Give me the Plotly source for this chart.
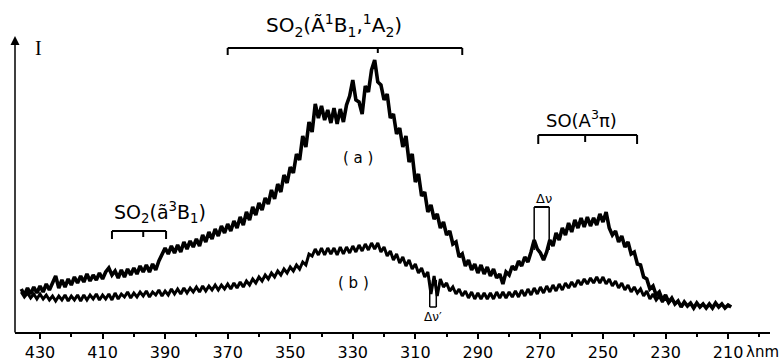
import plotly.graph_objects as go

# ---- data (wavelength in nm, intensity in arbitrary units) ----
wl_a = list(range(436, 208, -1))   # 436 .. 209
int_a = [
    43, 37, 44, 38, 45, 39, 46, 40, 48, 42,
    49, 56, 44, 52, 45, 53, 47, 55, 49, 56,
    50, 58, 51, 57, 52, 59, 53, 60, 64, 57,
    61, 54, 62, 55, 63, 57, 64, 58, 66, 60,
    67, 60, 68, 62, 71, 77, 84, 78, 86, 79,
    87, 80, 90, 83, 91, 85, 93, 86, 97, 90,
    100, 93, 103, 96, 106, 99, 108, 101, 111, 104,
    115, 107, 120, 112, 125, 117, 129, 122, 134, 128,
    142, 133, 148, 140, 157, 149, 165, 159, 178, 172,
    196, 185, 210, 200, 228, 214, 226, 212, 222, 209,
    224, 208, 223, 210, 227, 236, 252, 232, 230, 218,
    246, 240, 262, 272, 250, 247, 232, 238, 214, 218,
    198, 204, 185, 196, 170, 178, 150, 158, 136, 140,
    120, 127, 113, 118, 104, 110, 97, 101, 88, 90,
    75, 78, 66, 72, 62, 68, 59, 67, 58, 65,
    56, 63, 54, 58, 48, 60, 57, 66, 62, 71,
    66, 75, 70, 80, 92, 83, 79, 72, 80, 92,
    86, 99, 92, 104, 97, 109, 100, 112, 104, 114,
    105, 115, 106, 114, 107, 118, 110, 120, 104, 97,
    101, 90, 96, 85, 90, 78, 80, 68, 67, 55,
    53, 43, 46, 37, 40, 32, 37, 30, 34, 28,
    31, 25, 30, 26, 29, 24, 29, 25, 28, 24,
    28, 24, 29, 25, 28, 24, 27, 25,
]

wl_b = list(range(436, 227, -1))   # 436 .. 228
int_b = [
    40, 35, 39, 34, 38, 33, 38, 33, 37, 32,
    36, 31, 36, 32, 37, 31, 36, 32, 37, 31,
    37, 32, 37, 33, 38, 32, 37, 33, 38, 32,
    39, 33, 38, 35, 40, 34, 39, 35, 40, 36,
    41, 35, 40, 37, 42, 36, 41, 37, 43, 38,
    43, 38, 44, 39, 44, 40, 45, 40, 46, 41,
    46, 42, 47, 42, 47, 43, 48, 43, 49, 44,
    50, 45, 51, 47, 53, 49, 55, 51, 57, 53,
    59, 55, 61, 57, 63, 59, 65, 61, 67, 63,
    70, 67, 78, 76, 83, 77, 84, 77, 84, 78,
    84, 77, 85, 78, 85, 79, 86, 80, 87, 81,
    88, 82, 89, 83, 89, 80, 85, 76, 81, 72,
    78, 69, 75, 66, 72, 63, 68, 59, 64, 55,
    60, 38, 56, 36, 53, 45, 49, 41, 45, 38,
    43, 36, 41, 34, 40, 33, 39, 33, 39, 33,
    39, 33, 40, 34, 40, 34, 40, 35, 41, 35,
    42, 36, 43, 37, 44, 38, 45, 39, 46, 40,
    47, 41, 48, 42, 49, 44, 50, 45, 52, 47,
    53, 48, 54, 49, 55, 49, 55, 48, 53, 46,
    51, 44, 49, 42, 47, 40, 45, 39, 43, 36,
    41, 33, 38, 32, 36, 30, 35, 29, 33,
]

tick_vals = [430, 410, 390, 370, 350, 330, 310, 290, 270, 250, 230, 210]
tick_text = [str(v) for v in tick_vals]

FONT = "DejaVu Sans"
BLACK = "black"

fig = go.Figure()
fig.add_trace(go.Scatter(x=wl_a, y=int_a, mode="lines",
                         line=dict(color=BLACK, width=3.6), name="(a)",
                         hoverinfo="x+y"))
fig.add_trace(go.Scatter(x=wl_b, y=int_b, mode="lines",
                         line=dict(color=BLACK, width=3), name="(b)",
                         hoverinfo="x+y"))

shapes = []
def seg(x0, y0, x1, y1, w=2):
    shapes.append(dict(type="line", xref="x", yref="y", x0=x0, y0=y0, x1=x1, y1=y1,
                       line=dict(color=BLACK, width=w)))

# SO2(A~ 1B1, 1A2) bracket
seg(370, 284, 295, 284)
seg(370, 284, 370, 277)
seg(295, 284, 295, 277)
seg(322, 284, 322, 279)
# SO(A3pi) bracket
seg(270.7, 197, 239.1, 197)
seg(270.7, 197, 270.7, 188)
seg(239.1, 197, 239.1, 188)
seg(255.7, 197, 255.7, 190)
# SO2(a~3B1) bracket
seg(407, 101, 389.7, 101)
seg(407, 101, 407, 93)
seg(389.7, 101, 389.7, 93)
seg(397, 101, 397, 95)
# Delta nu
seg(272, 125, 267.2, 125)
seg(272, 125, 272, 82, 1.5)
seg(267.2, 125, 267.2, 82, 1.5)
# Delta nu'
seg(305.4, 52, 305.4, 25, 1.5)
seg(303.3, 52, 303.3, 25, 1.5)
seg(305.4, 25, 303.3, 25, 1.5)

annotations = [
    dict(x=336, y=0.985, xref="x", yref="paper", yanchor="bottom", showarrow=False,
         text="SO<sub>2</sub>(Ã<sup>1</sup>B<sub>1</sub>,<sup>1</sup>A<sub>2</sub>)",
         font=dict(family=FONT, size=20, color=BLACK)),
    dict(x=257, y=199, xref="x", yref="y", yanchor="bottom", showarrow=False,
         text="SO(A<sup>3</sup>π)", font=dict(family=FONT, size=18, color=BLACK)),
    dict(x=391.6, y=104, xref="x", yref="y", yanchor="bottom", showarrow=False,
         text="SO<sub>2</sub>(ã<sup>3</sup>B<sub>1</sub>)",
         font=dict(family=FONT, size=19, color=BLACK)),
    dict(x=328.3, y=174, xref="x", yref="y", showarrow=False,
         text="( a )", font=dict(family=FONT, size=15, color=BLACK)),
    dict(x=329.9, y=49, xref="x", yref="y", showarrow=False,
         text="( b )", font=dict(family=FONT, size=15, color=BLACK)),
    dict(x=268.8, y=134, xref="x", yref="y", showarrow=False,
         text="Δν", font=dict(family=FONT, size=13, color=BLACK)),
    dict(x=304.3, y=15, xref="x", yref="y", showarrow=False,
         text="Δν′", font=dict(family=FONT, size=12, color=BLACK)),
    dict(x=430.6, y=284, xref="x", yref="y", showarrow=False,
         text="I", font=dict(family="Liberation Serif", size=20, color=BLACK)),
    dict(x=199.0, y=-0.068, xref="x", yref="paper", yanchor="middle", showarrow=False,
         text="λnm", font=dict(family=FONT, size=15, color=BLACK)),
    # y-axis arrow
    dict(x=0, y=1.007, xref="paper", yref="paper", ax=0, ay=298, axref="pixel",
         ayref="pixel", showarrow=True, arrowhead=2, arrowsize=1.2, arrowwidth=1.5,
         arrowcolor=BLACK, text=""),
]

fig.update_layout(
    width=784, height=363,
    margin=dict(l=15, r=14, t=38, b=31, autoexpand=False),
    paper_bgcolor="white", plot_bgcolor="white",
    showlegend=False,
    shapes=shapes,
    annotations=annotations,
    xaxis=dict(range=[438, 196.6], tickvals=tick_vals, ticktext=tick_text,
               automargin=False,
               ticks="outside", ticklen=5, tickwidth=2, tickcolor=BLACK,
               showline=True, linecolor=BLACK, linewidth=2,
               showgrid=False, zeroline=False,
               tickfont=dict(family=FONT, size=16, color=BLACK),
               minor=dict(dtick=10, tick0=0, ticks="outside", ticklen=3,
                          tickwidth=1.5, tickcolor=BLACK, showgrid=False)),
    yaxis=dict(range=[0, 294], showticklabels=False, ticks="", showgrid=False,
               automargin=False, zeroline=False, showline=False),
)

# remove the default page margin so the figure fills the window exactly
fig.write_html("out.html",
               config={"displayModeBar": False},
               post_script="document.body.style.margin='0';"
                           "document.body.style.overflow='hidden';")
